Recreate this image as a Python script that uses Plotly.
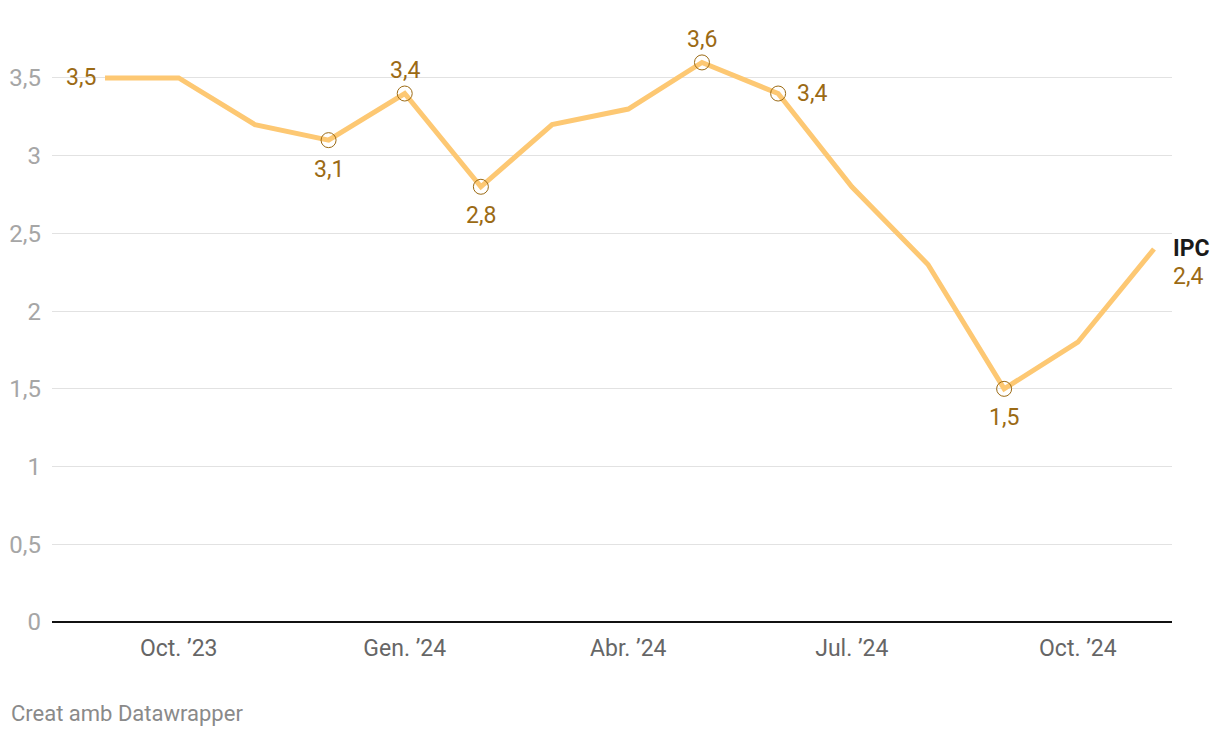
import plotly.graph_objects as go

months = ["2023-09-01", "2023-10-01", "2023-11-01", "2023-12-01", "2024-01-01",
          "2024-02-01", "2024-03-01", "2024-04-01", "2024-05-01", "2024-06-01",
          "2024-07-01", "2024-08-01", "2024-09-01", "2024-10-01", "2024-11-01"]
ipc = [3.5, 3.5, 3.2, 3.1, 3.4, 2.8, 3.2, 3.3, 3.6, 3.4, 2.8, 2.3, 1.5, 1.8, 2.4]

tick_dates = ["2023-10-01", "2024-01-01", "2024-04-01", "2024-07-01", "2024-10-01"]
tick_text = ["Oct. ’23", "Gen. ’24", "Abr. ’24", "Jul. ’24", "Oct. ’24"]
y_ticks = [0, 0.5, 1, 1.5, 2, 2.5, 3, 3.5]
y_tick_text = ["0", "0,5", "1", "1,5", "2", "2,5", "3", "3,5"]

circled = [3, 4, 5, 8, 9, 12]
labels = [(0, "left"), (3, "below"), (4, "above"), (5, "below"), (8, "above"),
          (9, "right"), (12, "below")]

LINE = "#fdc873"
LABEL = "#9b6a14"
FONT = "Roboto"
FS = 23

# figure is offset by the page's 8px body margin
W, H = 1212, 730
L, R, T, B = 44, 48, 12, 116
pw, ph = W - L - R, H - T - B

fig = go.Figure()
fig.add_trace(go.Scatter(x=months, y=ipc, mode="lines",
                         line=dict(color=LINE, width=5), hoverinfo="skip"))
fig.add_trace(go.Scatter(x=[months[i] for i in circled], y=[ipc[i] for i in circled],
                         mode="markers",
                         marker=dict(symbol="circle-open", size=15, color=LABEL,
                                     line=dict(width=1, color=LABEL)),
                         hoverinfo="skip"))

def fmt(v):
    return f"{v:.1f}".replace(".", ",")

for i, pos in labels:
    kw = dict(x=months[i], y=ipc[i], xref="x", yref="y", text=fmt(ipc[i]),
              showarrow=False, font=dict(family=FONT, size=FS, color=LABEL))
    if pos == "left":
        kw.update(xanchor="right", yanchor="middle", xshift=-7)
    elif pos == "right":
        kw.update(xanchor="left", yanchor="middle", xshift=17)
    elif pos == "above":
        kw.update(xanchor="center", yanchor="middle", yshift=23)
    else:
        kw.update(xanchor="center", yanchor="middle", yshift=-29)
    fig.add_annotation(**kw)

fig.add_annotation(x=months[-1], y=ipc[-1], xref="x", yref="y", text="<b>IPC</b>",
                   showarrow=False, xanchor="left", yanchor="middle", xshift=17, yshift=0,
                   font=dict(family=FONT, size=FS, color="#1a1a1a"))
fig.add_annotation(x=months[-1], y=ipc[-1], xref="x", yref="y", text=fmt(ipc[-1]),
                   showarrow=False, xanchor="left", yanchor="middle", xshift=17, yshift=-28,
                   font=dict(family=FONT, size=FS, color=LABEL))

fig.add_annotation(x=(1 - L) / pw, y=(H - B - 706) / ph, xref="paper", yref="paper",
                   text="Creat amb Datawrapper",
                   showarrow=False, xanchor="left", yanchor="middle",
                   font=dict(family=FONT, size=22, color="#8a8a8a"))

fig.update_layout(
    width=W, height=H,
    margin=dict(l=L, r=R, t=T, b=B, pad=0, autoexpand=False),
    paper_bgcolor="white", plot_bgcolor="white",
    showlegend=False,
    font=dict(family=FONT, size=FS),
    xaxis=dict(type="date", range=["2023-08-10 10:00", "2024-11-08 08:00"],
               tickvals=tick_dates, ticktext=tick_text, showgrid=False,
               zeroline=False, showline=False, ticks="", automargin=False,
               tickfont=dict(family=FONT, size=FS, color="#666666"),
               ticklabelstandoff=10),
    yaxis=dict(range=[0, 3.873], tickvals=y_ticks, ticktext=y_tick_text,
               showgrid=True, gridcolor="#e2e2e2", gridwidth=1,
               zeroline=True, zerolinecolor="#111111", zerolinewidth=2,
               showline=False, ticks="", automargin=False,
               tickfont=dict(family=FONT, size=24, color="#a6a6a6"),
               ticklabelstandoff=10),
)

fig.write_html("out.html")
